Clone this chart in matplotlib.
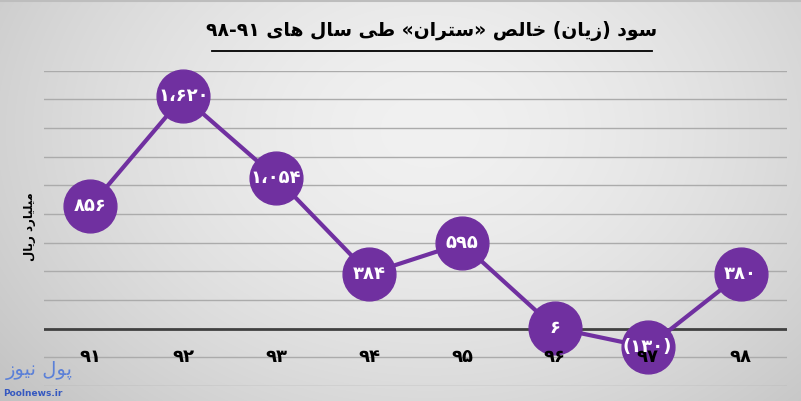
import re
import numpy as np
import matplotlib
matplotlib.use("Agg")
import matplotlib.pyplot as plt

# ---------------- data ----------------
years = ["۹۱", "۹۲", "۹۳", "۹۴", "۹۵", "۹۶", "۹۷", "۹۸"]
values = [856, 1620, 1054, 384, 595, 6, -130, 380]
value_labels = ["۸۵۶", "۱،۶۲۰", "۱،۰۵۴", "۳۸۴", "۵۹۵", "۶", "(۱۳۰)", "۳۸۰"]
title_text = "سود (زیان) خالص «ستران» طی سال های ۹۱-۹۸"
ylabel_text = "میلیارد ریال"
logo_text = "پول نیوز"
logo_url = "Poolnews.ir"
y_ticks = list(range(-400, 1801, 200))

# ---------------- minimal Persian shaping ----------------
FORMS = {
    'ا': ('\uFE8D', '\uFE8E', None, None),
    'پ': ('\uFB56', '\uFB57', '\uFB58', '\uFB59'),
    'ت': ('\uFE95', '\uFE96', '\uFE97', '\uFE98'),
    'خ': ('\uFEA5', '\uFEA6', '\uFEA7', '\uFEA8'),
    'د': ('\uFEA9', '\uFEAA', None, None),
    'ر': ('\uFEAD', '\uFEAE', None, None),
    'ز': ('\uFEAF', '\uFEB0', None, None),
    'س': ('\uFEB1', '\uFEB2', '\uFEB3', '\uFEB4'),
    'ص': ('\uFEB9', '\uFEBA', '\uFEBB', '\uFEBC'),
    'ط': ('\uFEC1', '\uFEC2', '\uFEC3', '\uFEC4'),
    'ل': ('\uFEDD', '\uFEDE', '\uFEDF', '\uFEE0'),
    'م': ('\uFEE1', '\uFEE2', '\uFEE3', '\uFEE4'),
    'ن': ('\uFEE5', '\uFEE6', '\uFEE7', '\uFEE8'),
    'ه': ('\uFEE9', '\uFEEA', '\uFEEB', '\uFEEC'),
    'و': ('\uFEED', '\uFEEE', None, None),
    'ی': ('\uFBFC', '\uFBFD', '\uFBFE', '\uFBFF'),
}
MIRROR = {'(': ')', ')': '(', '«': '»', '»': '«'}


def shape(s):
    out = []
    for i, c in enumerate(s):
        if c not in FORMS:
            out.append(c)
            continue
        f = FORMS[c]
        prev = s[i - 1] if i > 0 else ''
        nxt = s[i + 1] if i + 1 < len(s) else ''
        pj = prev in FORMS and FORMS[prev][2] is not None
        nj = nxt in FORMS and f[2] is not None
        if pj and nj:
            out.append(f[3])
        elif pj:
            out.append(f[1])
        elif nj:
            out.append(f[2])
        else:
            out.append(f[0])
    return ''.join(out)


def rtl(s):
    toks = re.findall(r'[\u06F0-\u06F9]+|.', shape(s))
    return ''.join(MIRROR.get(t, t) for t in reversed(toks))


# ---------------- figure ----------------
W, H = 801, 401
fig = plt.figure(figsize=(W / 100, H / 100), dpi=100)

# background gradient
bg = fig.add_axes([0, 0, 1, 1], zorder=0)
yy, xx = np.mgrid[0:H, 0:W]
d = np.sqrt(((xx - 430) / 430.0) ** 2 + ((yy - 130) / 320.0) ** 2)
v = 0.945 - 0.12 * d ** 1.6
img = np.clip(np.dstack([v, v, v]), 0, 1)
bg.imshow(img, extent=[0, W, H, 0], aspect='auto')
bg.plot([0, W], [0.8, 0.8], color='#bdbdbd', lw=1.5)
bg.set_xlim(0, W)
bg.set_ylim(H, 0)
bg.axis('off')

# main axes
left_px, right_px, top_px, bot_px = 44, 787, 70.7, 386
ax = fig.add_axes([left_px / W, (H - bot_px) / H, (right_px - left_px) / W, (bot_px - top_px) / H], zorder=1)
ax.patch.set_alpha(0)
x = np.arange(len(years))
ax.set_xlim(-0.5, len(years) - 0.5)
ax.set_ylim(y_ticks[0], y_ticks[-1])
for t in y_ticks:
    if t == 0:
        ax.axhline(t, color='#404040', lw=2.0, zorder=2)
    else:
        ax.axhline(t, color='#ababab', lw=1.0, zorder=1)

purple = '#7030A0'
ax.plot(x, values, color=purple, lw=3, zorder=3, clip_on=False)
ax.plot(x, values, 'o', ms=38, color=purple, mec=purple, zorder=4, clip_on=False)
for xi, yv, lab in zip(x, values, value_labels):
    ax.text(xi, yv, lab, color='white', fontsize=13, fontweight='bold', ha='center', va='center',
            family=['DejaVu Sans'], zorder=6, clip_on=False)
for xi, lab in zip(x, years):
    ax.text(xi, -200, lab, color='black', fontsize=13, fontweight='bold', ha='center', va='center',
            family=['DejaVu Sans'], zorder=5)

ax.set_xticks([])
ax.set_yticks([])
for s in ax.spines.values():
    s.set_visible(False)

# title + underline
fig.text(432 / W, 1 - 31 / H, rtl(title_text), fontsize=13.5, fontweight='bold', ha='center', va='center',
         family=['DejaVu Sans'])
bg.plot([212, 652], [51, 51], color='black', lw=1.3)

# y label
fig.text(30 / W, 1 - 227 / H, rtl(ylabel_text), rotation=90, fontsize=8.5, fontweight='bold', ha='center',
         va='center', family=['DejaVu Sans'])

# logo
fig.text(6 / W, 1 - 370 / H, rtl(logo_text), fontsize=14, color='#5b80d8', ha='left',
         va='center', family=['DejaVu Sans'])
fig.text(3 / W, 1 - 393 / H, logo_url, fontsize=6.5, fontweight='bold', color='#3558c0', ha='left',
         va='center', family=['DejaVu Sans'])

fig.savefig('out.png', dpi=100)
